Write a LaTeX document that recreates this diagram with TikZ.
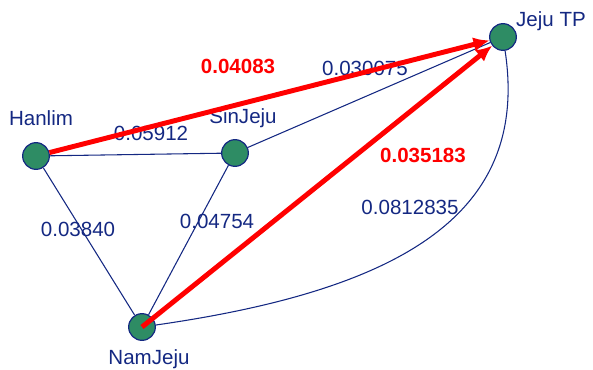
\documentclass[tikz,border=0pt]{standalone}
\usepackage{fontspec}
\setmainfont{Liberation Sans}
\usetikzlibrary{positioning, arrows.meta}
\definecolor{edgeblue}{RGB}{20,40,130}
\definecolor{nodegreen}{RGB}{46,140,100}

\begin{document}
\begin{tikzpicture}[
    x=0.75pt, y=-0.75pt,
    font=\fontsize{15.4}{18}\selectfont,
    stop/.style={circle, draw=edgeblue, line width=0.9pt, fill=nodegreen, minimum size=20pt, inner sep=0pt},
    stopname/.style={text=edgeblue, inner sep=0pt},
    weight/.style={text=edgeblue, inner sep=0pt},
    best/.style={text=red, font=\fontsize{15.4}{18}\selectfont\bfseries, inner sep=0pt},
    link/.style={draw=edgeblue, line width=0.8pt},
    route/.style={draw=red, line width=3.7pt, -{Latex[length=12pt, width=11pt]}},
    ]
    \useasboundingbox (0,0) rectangle (593,369);
    % Stops
    \node[stop] (Hanlim) at (36,156) {};
    \node[stop] (SinJeju) at (235,153) {};
    \node[stop] (JejuTP) at (503,37) {};
    \node[stop] (NamJeju) at (142,327) {};
    % Stop names
    \node[stopname] (Hanlim_name) at (41,118) {Hanlim};
    \node[stopname] (SinJeju_name) at (243,118) {SinJeju};
    \node[stopname] (JejuTP_name) at (551,21) {Jeju TP};
    \node[stopname] (NamJeju_name) at (149,359) {NamJeju};

    % Edges
    \draw[link] (Hanlim) -- (SinJeju);
    \draw[link] (Hanlim) -- (NamJeju);
    \draw[link] (SinJeju) -- (NamJeju);
    \draw[link] (SinJeju) -- (JejuTP);
    \draw[link] (NamJeju) .. controls (400,290) and (530,215) .. (JejuTP);
    % Weights
    \node[weight] (w_hs) at (151,133) {0.05912};
    \node[weight] (w_hn) at (78,229) {0.03840};
    \node[weight] (w_sn) at (217,221) {0.04754};
    \node[weight] (w_sj) at (365,68) {0.030075};
    \node[weight] (w_nj) at (410,207) {0.0812835};

    % Chosen routes
    \draw[route] (Hanlim) -- (JejuTP);
    \draw[route] (NamJeju.center) -- (JejuTP);
    \node[best] (w_hj) at (238,66) {0.04083};
    \node[best] (w_nj_best) at (423,155) {0.035183};
\end{tikzpicture}
\end{document}
